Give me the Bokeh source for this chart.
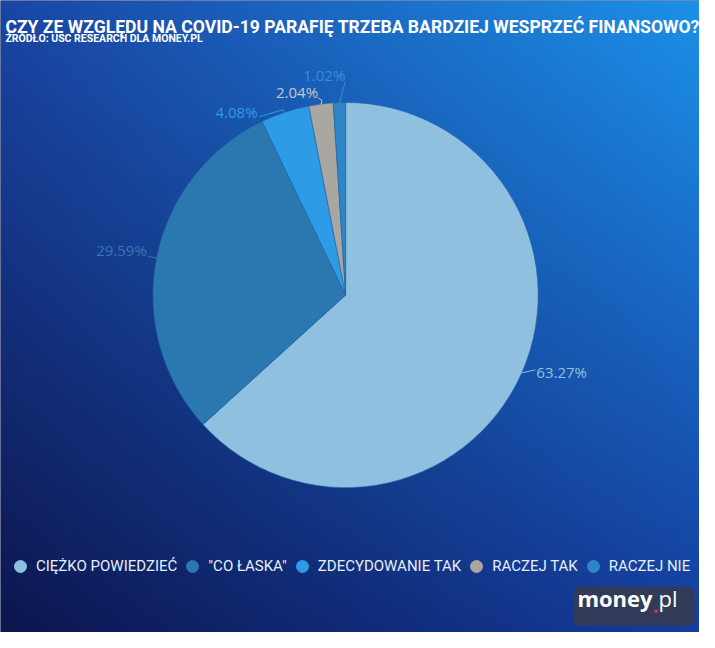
import numpy as np
from bokeh.plotting import figure
from bokeh.models import Range1d, Legend, LegendItem, BoxAnnotation, ColumnDataSource
from bokeh.core.properties import value
from bokeh.embed import file_html
from bokeh.resources import INLINE

# ---- data ----
categories = ["CIĘŻKO POWIEDZIEĆ", '"CO ŁASKA"', "ZDECYDOWANIE TAK", "RACZEJ TAK", "RACZEJ NIE"]
values = [63.27, 29.59, 4.08, 2.04, 1.02]
label_texts = ["63.27%", "29.59%", "4.08%", "2.04%", "1.02%"]
title_text = "CZY ZE WZGLĘDU NA COVID-19 PARAFIĘ TRZEBA BARDZIEJ WESPRZEĆ FINANSOWO?"
subtitle_text = "ŹRÓDŁO: USC RESEARCH DLA MONEY.PL"

# ---- style ----
slice_colors = ["#8fc0e0", "#2b78b0", "#2e9be6", "#aaa6a2", "#2f86c6"]
label_colors = ["#8fc0e0", "#3576b0", "#2e9be6", "#c8c8c8", "#3a8fd4"]
W, H = 699, 632          # figure pixels
VW, VH = 715, 648        # design units
CX, CY, R = 353, 346, 197
text_off = [(15, -1, "left"), (-10, -8, "right"), (-28, -1, "right"), (-3, -13, "right"), (6, -29, "right")]
conn_off = [[(14, -3)], [(-9, -2)], [(-2, -3), (-26, 4)], [(1, -4), (-3, -7)], [(6, -22)]]
FONT = "Roboto"

p = figure(width=W, height=H, output_backend="svg", toolbar_location=None,
           x_range=Range1d(0, VW), y_range=Range1d(0, VH),
           x_axis_type=None, y_axis_type=None, min_border=0,
           background_fill_color="#0c1650", border_fill_color="#0c1650")
p.outline_line_color = None

# background gradient
gh, gw = H // 2, W // 2
u = np.linspace(0, 1, gw)[None, :]
v = np.linspace(0, 1, gh)[:, None]  # 0 bottom, 1 top
TL = np.array([26, 70, 165]); TR = np.array([28, 145, 232])
BL = np.array([12, 22, 78]); BR = np.array([21, 61, 158])
chans = []
for k in range(3):
    top = TL[k] + (TR[k] - TL[k]) * u
    bot = BL[k] + (BR[k] - BL[k]) * u
    chans.append((bot + (top - bot) * v).astype(np.uint32))
img = ((255 << 24) | (chans[2] << 16) | (chans[1] << 8) | chans[0]).astype(np.uint32)
p.image_rgba(image=[img], x=0, y=0, dw=VW, dh=VH)

# pie
vals = np.array(values, dtype=float)
frac = vals / vals.sum()
cum = np.cumsum(frac)
start = np.pi / 2 - 2 * np.pi * (cum - frac)
end = np.pi / 2 - 2 * np.pi * cum
src = ColumnDataSource(dict(start=start, end=end, color=slice_colors))
p.wedge(x=CX, y=CY, radius=R, start_angle="start", end_angle="end", direction="clock",
        fill_color="color", line_color="#2363a8", line_width=0.6, source=src)

# labels + connectors
mid = np.pi / 2 - 2 * np.pi * (cum - frac / 2)
ex = CX + R * np.cos(mid)
ey = CY + R * np.sin(mid)
xs, ys, tx, ty, ta = [], [], [], [], []
for i in range(len(values)):
    px = [ex[i]] + [ex[i] + dx for dx, dy in conn_off[i]]
    py = [ey[i]] + [ey[i] - dy for dx, dy in conn_off[i]]
    xs.append(px); ys.append(py)
    tx.append(ex[i] + text_off[i][0]); ty.append(ey[i] - text_off[i][1]); ta.append(text_off[i][2])
p.multi_line(xs=xs, ys=ys, line_color=label_colors, line_width=1)
lsrc = ColumnDataSource(dict(x=tx, y=ty, t=label_texts, a=ta, c=label_colors))
p.text(x="x", y="y", text="t", text_align="a", text_baseline="middle", text_color="c",
       text_font=value("Open Sans"), text_font_size="15px", source=lsrc)

# title
p.text(x=[5], y=[621], text=[title_text], text_color="white", text_font=value(FONT),
       text_font_size="17.6px", text_font_style="bold", text_baseline="alphabetic")
p.text(x=[5], y=[609], text=[subtitle_text], text_color="white", text_font=value(FONT),
       text_font_size="10.5px", text_font_style="bold", text_baseline="alphabetic")

# legend
items = []
for i, c in enumerate(categories):
    r = p.scatter(x=[np.nan], y=[np.nan], marker="circle", size=14, fill_color=slice_colors[i],
                  line_color=slice_colors[i])
    items.append(LegendItem(label=c, renderers=[r]))
legend = Legend(items=items, orientation="horizontal", location=(5, 51),
                glyph_width=30, glyph_height=30, label_standoff=1, spacing=-5,
                padding=0, margin=0, background_fill_alpha=0, border_line_alpha=0,
                label_text_color="#e6eef8", label_text_font=FONT,
                label_text_font_size="15px")
p.add_layout(legend, "center")

# logo
p.add_layout(BoxAnnotation(left=586, right=710, bottom=7, top=47, fill_color="#343b52",
                           fill_alpha=0.92, line_alpha=0, border_radius=6))
r1 = p.text(x=[667], y=[20], text=["money"], text_align="right", text_color="white",
            text_font=value("Open Sans"), text_font_style="bold", text_font_size="22px")
r2 = p.text(x=[667], y=[20], text=["."], text_color="#e0245e",
            text_font=value("Open Sans"), text_font_style="bold", text_font_size="22px")
r3 = p.text(x=[673], y=[20], text=["pl"], text_color="white",
            text_font=value("Open Sans"), text_font_size="22px")
for r in (r1, r2, r3):
    r.level = "overlay"

open("out.html", "w").write(file_html(p, INLINE))
